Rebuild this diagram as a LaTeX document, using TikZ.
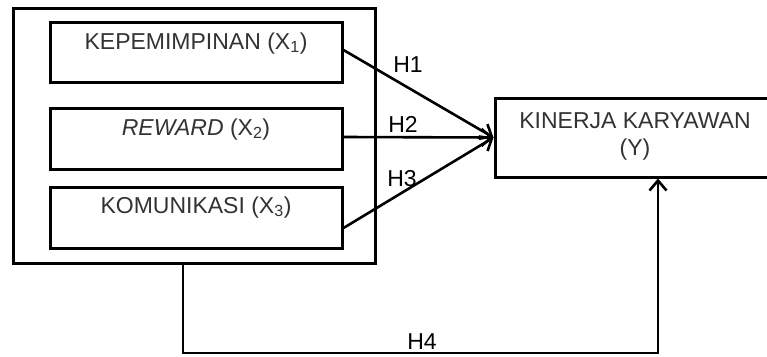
\documentclass[tikz,border=0pt]{standalone}
\usepackage{fontspec}
\setmainfont{Liberation Sans}
\usetikzlibrary{arrows.meta}
\begin{document}
\begin{tikzpicture}[x=1pt,y=-1pt,
  boxframe/.style={draw=black,line width=3pt,inner sep=0pt},
  varbox/.style={boxframe,minimum width=292pt},
  lbl/.style={font=\fontsize{23}{26}\selectfont,text=black!80,inner sep=0pt,anchor=base},
  hlbl/.style={font=\fontsize{23}{26}\selectfont,text=black,inner sep=0pt,anchor=base},
  conn/.style={draw=black,line width=2.6pt,-{Straight Barb[length=10pt,width=17pt,line width=2.6pt]}}
]
\useasboundingbox (0,0) rectangle (767,356);
\clip (0,0) rectangle (767,356);
\fill[white] (0,0) rectangle (767,356);

\node[boxframe,minimum width=362pt,minimum height=255pt] (outer) at (194,135.5) {};
\node[varbox,minimum height=60pt] (b1) at (196,52) {};
\node[varbox,minimum height=61pt] (b2) at (196,138.5) {};
\node[varbox,minimum height=61pt] (b3) at (196,217.5) {};
\node[boxframe,minimum width=285pt,minimum height=79pt] (y) at (637.5,137.5) {};

\node[lbl] (t1) at (196,49) {KEPEMIMPINAN (X\textsubscript{1})};
\node[lbl] (t2) at (196,135) {\textit{REWARD} (X\textsubscript{2})};
\node[lbl] (t3) at (196,213) {KOMUNIKASI (X\textsubscript{3})};
\node[lbl] (ty1) at (635,128) {KINERJA KARYAWAN};
\node[lbl] (ty2) at (635,155) {(Y)};

\coordinate (tip) at (y.west);
\draw[conn] ([yshift=2pt]b1.east) -- (tip);
\draw[conn] ([yshift=1.5pt]b2.east) -- (tip);
\draw[conn] ([yshift=-10.5pt]b3.east) -- (tip);

\coordinate (c1) at (183,353);
\coordinate (c2) at (658,353);
\draw[conn] (outer.south -| c1) -- (c1) -- (c2) -- (y.south -| c2);

\node[hlbl] (h1) at (408,72) {H1};
\node[hlbl] (h2) at (403,132) {H2};
\node[hlbl] (h3) at (402,186) {H3};
\node[hlbl] (h4) at (422,349) {H4};
\end{tikzpicture}
\end{document}
